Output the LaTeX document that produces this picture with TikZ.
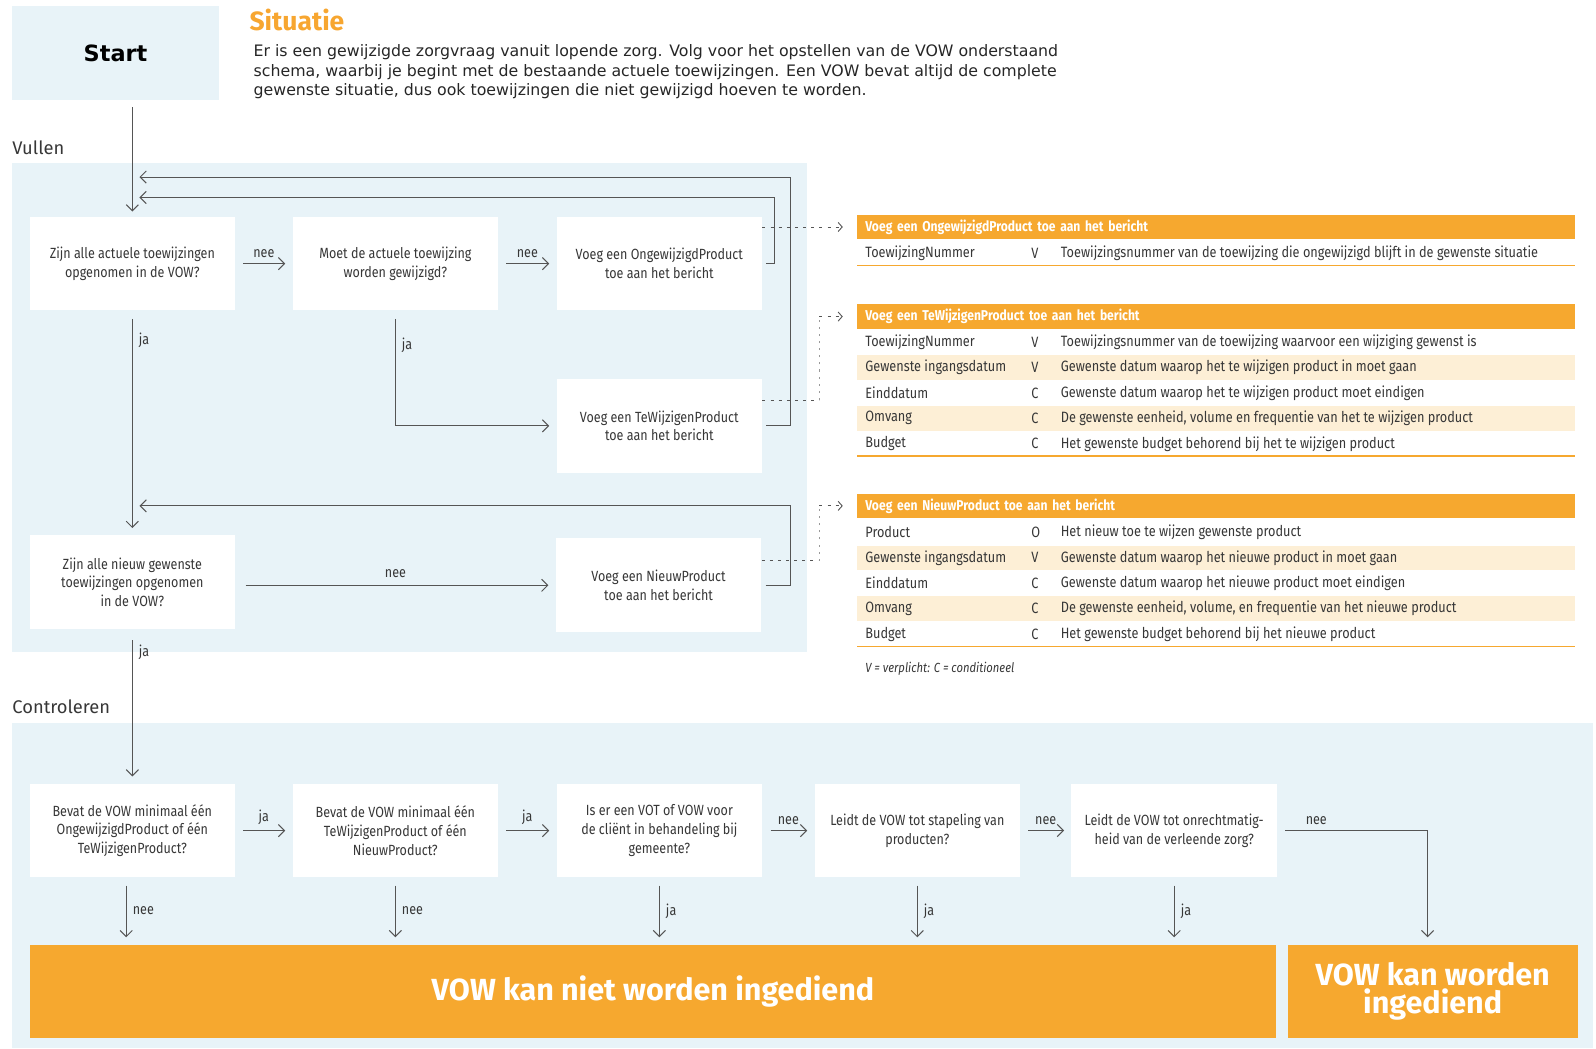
\documentclass[tikz,border=0pt]{standalone}
\usepackage{fontspec}
\setmainfont{Fira Sans}[FakeStretch=0.85]
\newfontfamily\headfont{Fira Sans}
\newfontfamily\verdfont{DejaVu Sans}
\usetikzlibrary{arrows.meta,positioning,calc}

\definecolor{panelblue}{RGB}{232,243,248}
\definecolor{vworange}{RGB}{246,168,47}
\definecolor{rowlight}{RGB}{253,239,214}
\definecolor{linegray}{RGB}{85,85,85}
\definecolor{txtgray}{RGB}{55,55,55}
\definecolor{situorange}{RGB}{247,166,48}

\newcommand{\boxfont}{\fontsize{14.5}{18.5}\selectfont}
\newcommand{\tabfont}{\fontsize{14.7}{16}\selectfont}

\begin{document}
\begin{tikzpicture}[x=1pt, y=-1pt,
	every node/.style={inner sep=0pt, text=txtgray},
	qbox/.style={fill=white, minimum width=202pt, minimum height=92pt, align=center, font=\boxfont},
	endbox/.style={fill=vworange, minimum height=92pt, align=center, text=white, font=\headfont\fontsize{30}{27}\selectfont\bfseries},
	flow/.style={draw=linegray, line width=1pt, -{Straight Barb[length=6pt,width=12pt]}, shorten <=8pt, shorten >=7pt},
	lbl/.style={font=\boxfont},
	dashes/.style={draw=linegray, line width=0.9pt, dash pattern=on 3pt off 5pt},
	dots/.style={draw=linegray!60, line width=0.9pt, dash pattern=on 2pt off 5pt},
	thead/.style={anchor=west, fill=vworange, text=white, minimum height=24pt, text width=689pt, inner xsep=8pt, align=left, font=\fontsize{14}{16}\selectfont\bfseries},
	cell/.style={anchor=west, font=\tabfont}]
	\useasboundingbox (0,0) rectangle (1568,1030);
	% panels
	\fill[panelblue] (12,160) rectangle (793,641);
	\fill[panelblue] (12,710) rectangle (1565,1030);

	\node[fill=panelblue, minimum width=203pt, minimum height=92pt, text=black, font=\verdfont\fontsize{22}{26}\selectfont\bfseries] (start) at (113.5,52) {Start};
	\node[anchor=west, text=situorange, font=\headfont\fontsize{26}{30}\selectfont\bfseries] (situ) at (245,20) {Situatie};
	\node[anchor=north west, align=left, text=black!85, font=\verdfont\fontsize{15.5}{19}\selectfont] (intro) at (249,44)
		{Er is een gewijzigde zorgvraag vanuit lopende zorg. Volg voor het opstellen van de VOW onderstaand\\
		 schema, waarbij je begint met de bestaande actuele toewijzingen. Een VOW bevat altijd de complete\\
		 gewenste situatie, dus ook toewijzingen die niet gewijzigd hoeven te worden.};
	\node[anchor=west, font=\headfont\fontsize{18}{20}\selectfont] (vullen) at (12,145) {Vullen};
	\node[anchor=west, font=\headfont\fontsize{18}{20}\selectfont] (contr) at (12,694) {Controleren};

	% Vullen
	\node[qbox] (A1) at (130,259) {Zijn alle actuele toewijzingen\\opgenomen in de VOW?};
	\node[qbox, right=56pt of A1] (A2) {Moet de actuele toewijzing\\worden gewijzigd?};
	\node[qbox, right=57pt of A2] (A3) {Voeg een OngewijzigdProduct\\toe aan het bericht};
	\node[qbox, below=67pt of A3] (A4) {Voeg een TeWijzigenProduct\\toe aan het bericht};
	\node[qbox] (B1) at (130,572) {Zijn alle nieuw gewenste\\toewijzingen opgenomen\\in de VOW?};
	\node[qbox] (B3) at (647,575) {Voeg een NieuwProduct\\toe aan het bericht};

	\coordinate (jOng) at (130,194);
	\coordinate (jTe) at (130,174);
	\coordinate (jNw) at (130,497);

	\draw[flow, shorten <=7pt, shorten >=5pt] (A1.north |- start.south) -- (A1.north);
	\draw[flow] (A1) -- node[lbl, midway, above=5pt] {nee} (A2);
	\draw[flow] (A2) -- node[lbl, midway, above=5pt] {nee} (A3);
	\draw[flow] (A1) -- node[lbl, pos=0.13, right=6pt] {ja} (B1);
	\draw[flow] (A2.south) |- node[lbl, pos=0.15, right=6pt] {ja} (A4.west);
	\draw[flow, shorten <=4pt] (A3.east) -- ++(12,0) |- (jOng);
	\draw[flow, shorten <=4pt] (A4.east) -- ++(28,0) |- (jTe);
	\draw[flow, shorten <=4pt] (B3.east) -- ++(28,0) |- (jNw);
	\draw[flow, shorten <=10pt] (B1.east |- B3.west) -- node[lbl, midway, above=7pt] {nee} (B3.west);

	% Controleren
	\node[qbox] (C1) at (130,816) {Bevat de VOW minimaal één\\OngewijzigdProduct of één\\TeWijzigenProduct?};
	\node[qbox, right=56pt of C1] (C2) {Bevat de VOW minimaal één\\TeWijzigenProduct of één\\NieuwProduct?};
	\node[qbox, right=57pt of C2] (C3) {Is er een VOT of VOW voor\\de cliënt in behandeling bij\\gemeente?};
	\node[qbox, right=51pt of C3] (C4) {Leidt de VOW tot stapeling van\\producten?};
	\node[qbox, right=50pt of C4] (C5) {Leidt de VOW tot onrechtmatig-\\heid van de verleende zorg?};
	\node[endbox, minimum width=1225pt] (R1) at (641.5,974) {VOW kan niet worden ingediend};
	\node[endbox, minimum width=285pt] (R2) at (1407.5,974) {VOW kan worden\\ingediend};

	\draw[flow, shorten <=11pt] (B1) -- node[lbl, pos=0.15, right=6pt] {ja} (C1);
	\draw[flow] (C1) -- node[lbl, midway, above=5pt] {ja} (C2);
	\draw[flow] (C2) -- node[lbl, midway, above=5pt] {ja} (C3);
	\draw[flow] (C3) -- node[lbl, midway, above=5pt] {nee} (C4);
	\draw[flow] (C4) -- node[lbl, midway, above=5pt] {nee} (C5);
	\draw[flow] (C5.east) -| node[lbl, pos=0.13, above=5pt] {nee} ([xshift=-5pt]R2.north);
	\draw[flow] ([xshift=-6pt]C1.south) -- node[lbl, midway, right=6pt] {nee} ([xshift=-6pt]C1.south |- R1.north);
	\draw[flow] (C2.south) -- node[lbl, midway, right=6pt] {nee} (C2.south |- R1.north);
	\draw[flow] (C3.south) -- node[lbl, midway, right=6pt] {ja} (C3.south |- R1.north);
	\draw[flow] (C4.south) -- node[lbl, midway, right=6pt] {ja} (C4.south |- R1.north);
	\draw[flow] (C5.south) -- node[lbl, midway, right=6pt] {ja} (C5.south |- R1.north);

	% tabellen
	\node[thead] (hOng) at (842,223) {Voeg een OngewijzigdProduct toe aan het bericht};
	\node[cell] (ong1) at (850,249) {ToewijzingNummer};
	\node[cell] (ong2) at (1013,249) {V};
	\node[cell] (ong3) at (1042,249) {Toewijzingsnummer van de toewijzing die ongewijzigd blijft in de gewenste situatie};
	\draw[vworange, line width=1.5pt] (842,261) -- (1547,261);

	\node[thead] (hTe) at (842,311) {Voeg een TeWijzigenProduct toe aan het bericht};
	\fill[rowlight] (842,349) rectangle (1547,373);
	\fill[rowlight] (842,399) rectangle (1547,423);
	\foreach \ry/\rn/\rk/\rd [count=\ri] in {
		336/ToewijzingNummer/V/{Toewijzingsnummer van de toewijzing waarvoor een wijziging gewenst is},
		361/Gewenste ingangsdatum/V/{Gewenste datum waarop het te wijzigen product in moet gaan},
		386/Einddatum/C/{Gewenste datum waarop het te wijzigen product moet eindigen},
		411/Omvang/C/{De gewenste eenheid, volume en frequentie van het te wijzigen product},
		436/Budget/C/{Het gewenste budget behorend bij het te wijzigen product}}{
		\node[cell] (te\ri a) at (850,\ry) {\rn};
		\node[cell] (te\ri b) at (1013,\ry) {\rk};
		\node[cell] (te\ri c) at (1042,\ry) {\rd};
	}
	\draw[vworange, line width=1.5pt] (842,448) -- (1547,448);

	\node[thead] (hNw) at (842,497) {Voeg een NieuwProduct toe aan het bericht};
	\fill[rowlight] (842,536) rectangle (1547,560);
	\fill[rowlight] (842,586) rectangle (1547,610);
	\foreach \ry/\rn/\rk/\rd [count=\ri] in {
		523/Product/O/{Het nieuw toe te wijzen gewenste product},
		548/Gewenste ingangsdatum/V/{Gewenste datum waarop het nieuwe product in moet gaan},
		573/Einddatum/C/{Gewenste datum waarop het nieuwe product moet eindigen},
		598/Omvang/C/{De gewenste eenheid, volume, en frequentie van het nieuwe product},
		623/Budget/C/{Het gewenste budget behorend bij het nieuwe product}}{
		\node[cell] (nw\ri a) at (850,\ry) {\rn};
		\node[cell] (nw\ri b) at (1013,\ry) {\rk};
		\node[cell] (nw\ri c) at (1042,\ry) {\rd};
	}
	\draw[vworange, line width=1.5pt] (842,635) -- (1547,635);
	\node[cell, font=\fontsize{13}{15}\selectfont\itshape] (legend) at (850,657) {V = verplicht: C = conditioneel};

	% stippellijnen naar de tabellen
	\coordinate (kTe) at (805,393);
	\coordinate (kNw) at (805,551);
	\draw[dashes, -{Straight Barb[length=4pt,width=9pt]}, shorten >=14pt] (A3.east |- hOng.west) -- (hOng.west);
	\draw[dashes] (A4.east |- kTe) -- (kTe);
	\draw[dots] (kTe) -- (kTe |- hTe.west);
	\draw[dashes, -{Straight Barb[length=4pt,width=9pt]}, shorten >=14pt] (kTe |- hTe.west) -- (hTe.west);
	\draw[dashes] (B3.east |- kNw) -- (kNw);
	\draw[dots] (kNw) -- (kNw |- hNw.west);
	\draw[dashes, -{Straight Barb[length=4pt,width=9pt]}, shorten >=14pt] (kNw |- hNw.west) -- (hNw.west);
\end{tikzpicture}
\end{document}
